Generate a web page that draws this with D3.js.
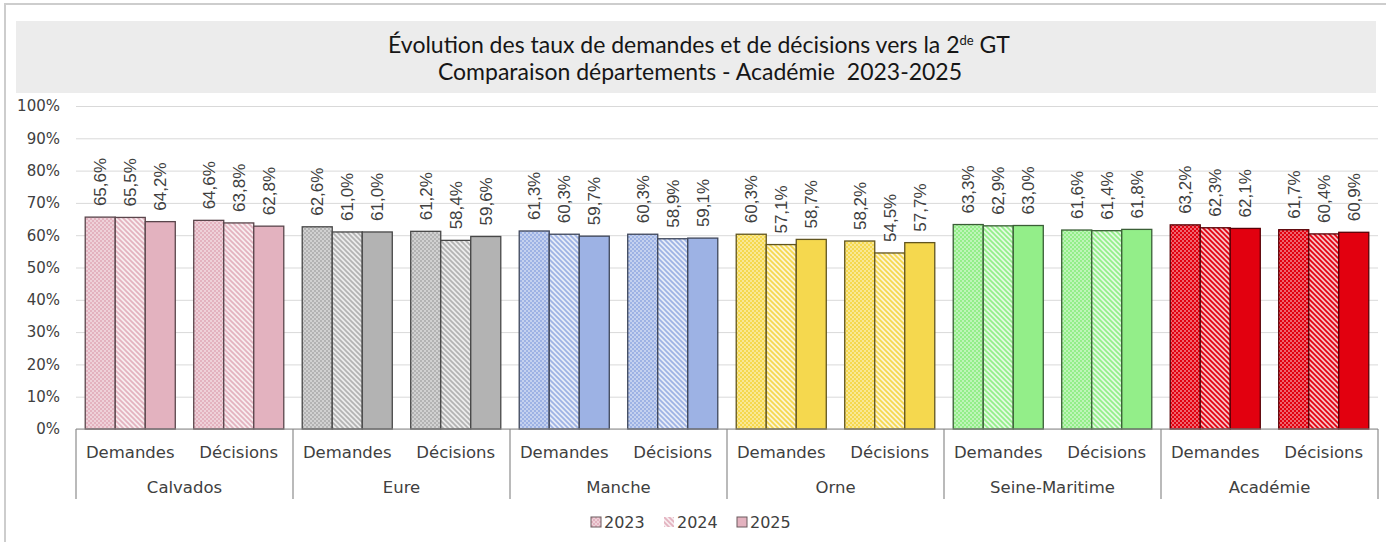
<!DOCTYPE html>
<html>
<head>
<meta charset="utf-8">
<script src="https://cdn.jsdelivr.net/npm/d3@7"></script>
<style>
  body { margin: 0; background: #fff; }
  svg { display: block; }
  .ylab text { font-family: "DejaVu Sans", sans-serif; font-size: 15px; fill: #404040; }
  .cat { font-family: "DejaVu Sans", sans-serif; font-size: 16.5px; fill: #404040; }
  .val { font-family: "Liberation Sans", Arial, sans-serif; font-size: 17px; fill: #404040; }
  .title { font-family: Lato, sans-serif; font-size: 23px; fill: #161616; }
  .leg { font-family: "DejaVu Sans", sans-serif; font-size: 16px; fill: #404040; }
</style>
</head>
<body>
<svg width="1386" height="542"></svg>
<script>
// categories
let departements = ["Calvados", "Eure", "Manche", "Orne", "Seine-Maritime", "Académie"];
let indicateurs = ["Demandes", "Décisions"];
let annees = ["2023", "2024", "2025"];
let yTicks = [0, 10, 20, 30, 40, 50, 60, 70, 80, 90, 100];

// values (%), one entry per departement
let demandes2023 = [65.6, 62.6, 61.3, 60.3, 63.3, 63.2];
let demandes2024 = [65.5, 61.0, 60.3, 57.1, 62.9, 62.3];
let demandes2025 = [64.2, 61.0, 59.7, 58.7, 63.0, 62.1];
let decisions2023 = [64.6, 61.2, 60.3, 58.2, 61.6, 61.7];
let decisions2024 = [63.8, 58.4, 58.9, 54.5, 61.4, 60.4];
let decisions2025 = [62.8, 59.6, 59.1, 57.7, 61.8, 60.9];

// base colour per departement
let couleurs = ["#e3b2bf", "#b3b3b3", "#9db2e4", "#f5d84e", "#93ee89", "#e2000f"];

// build rows for the join
let rows = [];
departements.forEach(function(dep, i) {
  let vals = {
    "Demandes": [demandes2023[i], demandes2024[i], demandes2025[i]],
    "Décisions": [decisions2023[i], decisions2024[i], decisions2025[i]]
  };
  indicateurs.forEach(function(ind) {
    annees.forEach(function(an, k) {
      rows.push({ dep: dep, di: i, ind: ind, an: an, ai: k, v: vals[ind][k] });
    });
  });
});

let svg = d3.select("svg");

// outer frame (cut off on the right/bottom like the original) and title band
svg.append("rect").attr("x", 5).attr("y", 4).attr("width", 1400).attr("height", 560)
  .attr("fill", "#fff").attr("stroke", "#cdcdcd").attr("stroke-width", 2);
svg.append("rect").attr("x", 16).attr("y", 21).attr("width", 1360).attr("height", 72)
  .attr("fill", "#ececec");

let t1 = svg.append("text").attr("class", "title").attr("x", 699).attr("y", 53)
  .attr("text-anchor", "middle");
t1.append("tspan").text("Évolution des taux de demandes et de décisions vers la 2");
t1.append("tspan").attr("font-size", "13px").attr("dy", -8).text("de");
t1.append("tspan").attr("dy", 8).text(" GT");
svg.append("text").attr("class", "title").attr("x", 700).attr("y", 80)
  .attr("text-anchor", "middle").attr("xml:space", "preserve")
  .text("Comparaison départements - Académie  2023-2025");

// patterns (2023 = dots, 2024 = diagonal hatch)
let defs = svg.append("defs");
couleurs.forEach(function(c, i) {
  let light = d3.interpolateRgb(c, "#fff")(0.4);
  let p1 = defs.append("pattern").attr("id", "dots" + i)
    .attr("patternUnits", "userSpaceOnUse").attr("width", 4).attr("height", 4);
  p1.append("rect").attr("width", 4).attr("height", 4).attr("fill", light);
  p1.append("rect").attr("width", 2).attr("height", 2).attr("fill", c);
  p1.append("rect").attr("x", 2).attr("y", 2).attr("width", 2).attr("height", 2).attr("fill", c);

  let p2 = defs.append("pattern").attr("id", "hatch" + i)
    .attr("patternUnits", "userSpaceOnUse").attr("width", 5).attr("height", 5);
  p2.append("rect").attr("width", 5).attr("height", 5).attr("fill", d3.interpolateRgb(c, "#fff")(0.75));
  p2.append("path").attr("d", "M0,0L5,5M-1,4L1,6M4,-1L6,1")
    .attr("stroke", c).attr("stroke-width", 1.7);
});

let fillFor = function(d) {
  if (d.ai == 0) return "url(#dots" + d.di + ")";
  if (d.ai == 1) return "url(#hatch" + d.di + ")";
  return couleurs[d.di];
};

// plot area
let plotLeft = 76, plotRight = 1378, plotTop = 106, plotBottom = 429;

let yScale = d3.scaleLinear().domain([0, 100]).range([plotBottom, plotTop]);
let depScale = d3.scaleBand().domain(departements).range([plotLeft, plotRight]);
let indScale = d3.scaleBand().domain(indicateurs).range([0, depScale.bandwidth()])
  .paddingInner(0.17).paddingOuter(0.085);
let anScale = d3.scaleBand().domain(annees).range([0, indScale.bandwidth()]);

// gridlines + y labels
let yAxis = d3.axisLeft(yScale).tickValues(yTicks).tickSize(-(plotRight - plotLeft))
  .tickPadding(16).tickFormat(d => d + "%");
let yGroup = svg.append("g").attr("class", "ylab")
  .attr("transform", "translate(" + plotLeft + ",0)").call(yAxis);
yGroup.select(".domain").remove();
yGroup.selectAll("line").attr("stroke", "#d9d9d9");
yGroup.selectAll("text").attr("x", -16);

// bars
let barX = d => depScale(d.dep) + indScale(d.ind) + anScale(d.an);
svg.append("g").selectAll("rect").data(rows).enter().append("rect")
  .attr("x", barX)
  .attr("y", d => yScale(d.v))
  .attr("width", anScale.bandwidth())
  .attr("height", d => plotBottom - yScale(d.v))
  .attr("fill", fillFor)
  .attr("stroke", d => d3.color(couleurs[d.di]).darker(2.6))
  .attr("stroke-width", 1.3);

// value labels
svg.append("g").selectAll("text").data(rows).enter().append("text")
  .attr("class", "val")
  .attr("transform", function(d) {
    let x = barX(d) + anScale.bandwidth() / 2;
    let y = yScale(d.v) - 11;
    return "translate(" + x + "," + y + ")rotate(-90)";
  })
  .attr("dy", "0.36em")
  .text(d => d.v.toFixed(1).replace(".", ",") + "%");

// x axis (two levels)
let xg = svg.append("g");
xg.append("line").attr("x1", plotLeft).attr("x2", plotRight).attr("y1", plotBottom).attr("y2", plotBottom)
  .attr("stroke", "#8c8c8c").attr("stroke-width", 1.2);
let bounds = departements.map(d => depScale(d)).concat([plotRight]);
xg.selectAll("line.sep").data(bounds).enter().append("line")
  .attr("class", "sep")
  .attr("x1", d => d).attr("x2", d => d).attr("y1", plotBottom).attr("y2", 499)
  .attr("stroke", "#8c8c8c").attr("stroke-width", 1.2);

departements.forEach(function(dep) {
  indicateurs.forEach(function(ind) {
    xg.append("text").attr("class", "cat")
      .attr("x", depScale(dep) + indScale(ind) + indScale.bandwidth() / 2)
      .attr("y", 458).attr("text-anchor", "middle").text(ind);
  });
  xg.append("text").attr("class", "cat")
    .attr("x", depScale(dep) + depScale.bandwidth() / 2)
    .attr("y", 493).attr("text-anchor", "middle").text(dep);
});

// legend
let leg = svg.append("g").attr("transform", "translate(591,517)");
annees.forEach(function(an, k) {
  let g = leg.append("g").attr("transform", "translate(" + (k * 73) + ",0)");
  g.append("rect").attr("width", 10).attr("height", 10)
    .attr("fill", fillFor({ ai: k, di: 0 }))
    .attr("stroke", k == 1 ? "none" : "#6a5a5e").attr("stroke-width", 1);
  g.append("text").attr("class", "leg").attr("x", 13).attr("y", 11).text(an);
});
</script>
</body>
</html>
